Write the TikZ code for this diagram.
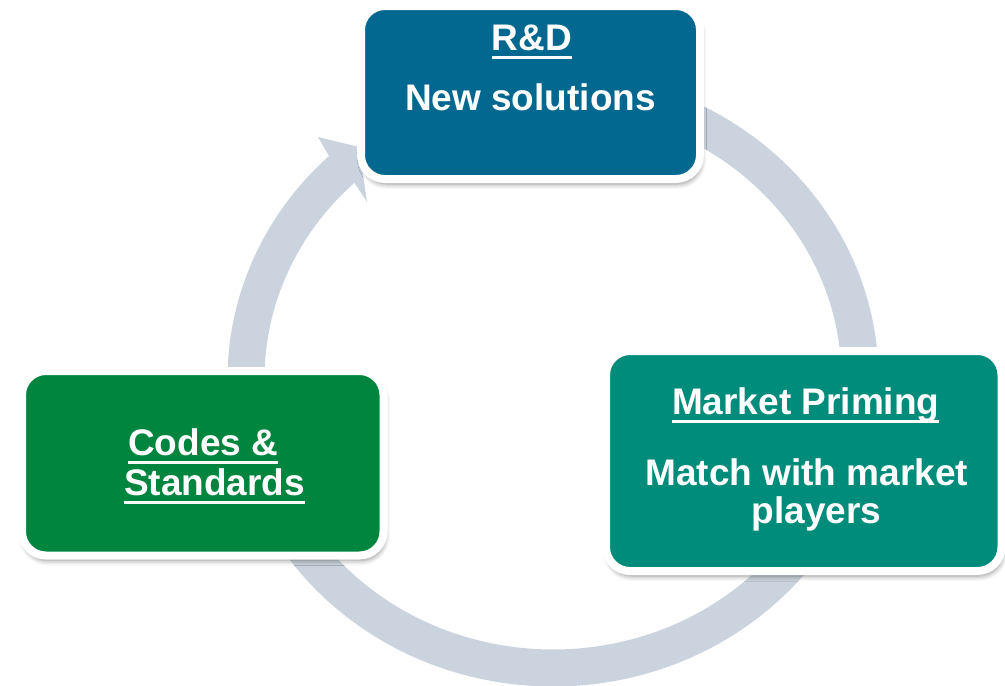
\documentclass[tikz,border=0pt]{standalone}
\usepackage{fontspec}
\setmainfont{Liberation Sans}
\usetikzlibrary{calc,shadows.blur}
\definecolor{ringc}{HTML}{CBD4DE}
\definecolor{rdblue}{HTML}{02688F}
\definecolor{mpteal}{HTML}{008C7A}
\definecolor{csgreen}{HTML}{00853F}
\newcommand\myul[1]{\setbox0\hbox{#1}\rlap{\rule[-8.5pt]{\wd0}{3pt}}\box0}
\begin{document}
\begin{tikzpicture}[x=1pt,y=-1pt,
  box/.style={draw=white, line width=8pt, rounded corners=24pt, inner sep=0pt,
    blur shadow={shadow xshift=1.5pt, shadow yshift=-5pt, shadow blur radius=5pt, shadow opacity=45}},
  txt/.style={text=white, font=\fontsize{37}{38}\selectfont\bfseries, inner sep=0pt, anchor=base}]
\useasboundingbox (0,0) rectangle (1005,686);
% ring with arrow head
\coordinate (c) at (553,379);
\coordinate (barbout) at (318,137);
\coordinate (tip) at (359,147);
\coordinate (barbin) at (367,202);
\fill[ringc] ($(c)+(275:325.5 and 307.5)$) arc[start angle=275, end angle=586.5, x radius=325.5, y radius=307.5]
  -- (barbout) -- (tip) -- (barbin)
  -- ($(c)+(586.5:288.5 and 270.5)$) arc[start angle=586.5, end angle=275, x radius=288.5, y radius=270.5] -- cycle;
% boxes
\node[box, fill=rdblue, minimum width=339pt, minimum height=173pt] (rd) at (530.5,92.5) {};
\node[box, fill=mpteal, minimum width=395.5pt, minimum height=220pt] (mp) at (803.75,461) {};
\node[box, fill=csgreen, minimum width=361.5pt, minimum height=184.5pt] (cs) at (202.75,463.25) {};
% texts
\node[txt] (rdh) at (531.7,50) {\myul{R\&D}};
\node[txt] (rdt) at (530.5,110) {New solutions};
\node[txt] (mph) at (805.8,414) {\myul{Market Priming}};
\node[txt] (mpt1) at (806.7,485) {Match with market};
\node[txt] (mpt2) at (816.5,523) {players};
\node[txt, anchor=base west] (csh1) at (128,455) {\myul{Codes \&}};
\node[txt, anchor=base west] (csh2) at (124,495) {\myul{Standards}};
\end{tikzpicture}
\end{document}
